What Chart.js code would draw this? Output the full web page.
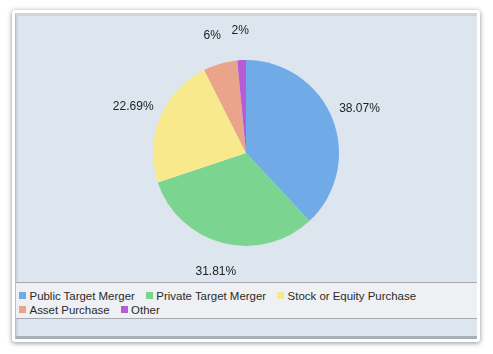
<!DOCTYPE html>
<html>
<head>
<meta charset="utf-8">
<script src="https://cdn.jsdelivr.net/npm/chart.js@4.4.0/dist/chart.umd.min.js"></script>
<style>
  html, body { margin: 0; padding: 0; background: #ffffff; width: 493px; height: 354px; overflow: hidden; }
  #card { position: absolute; left: 12px; top: 10px; width: 468px; height: 332px; background: #ffffff;
          border-radius: 3px; box-shadow: 0 1px 5px rgba(0,0,0,0.45); }
  #panel { position: absolute; left: 15px; top: 13px; width: 461px; height: 322px; background: #dde5ee;
           border-left: 1px solid #b9c1c9; border-top: 1px solid #d0d7de; border-bottom: 3px solid #a9b0b8;
           box-shadow: inset 2px 2px 0 #cdd5dd; }
  #chartWrap { position: absolute; left: 15px; top: 13px; width: 462px; height: 269px; }
  #legend { position: absolute; left: 16px; top: 282px; width: 461px; height: 37px; background: #eef0f3;
            border-top: 1px solid #a3a9af; border-bottom: 1px solid #a3a9af; box-sizing: border-box;
            padding: 6px 0 0 3px; font-family: "Liberation Sans", Arial, sans-serif; font-size: 11.45px;
            line-height: 14px; color: #2a2a2a; }
  .item { display: inline-block; white-space: nowrap; margin-right: 11px; }
  .box { display: inline-block; width: 7px; height: 7px; margin-right: 3.5px; vertical-align: 1px; }
</style>
</head>
<body>
<div id="card"></div>
<div id="panel"></div>
<div id="chartWrap"><canvas id="c" width="462" height="269"></canvas></div>
<div id="legend"></div>
<script>
const categories = ["Public Target Merger", "Private Target Merger", "Stock or Equity Purchase", "Asset Purchase", "Other"];
const values = [38.07, 31.81, 22.69, 5.93, 1.5];
const valueLabels = ["38.07%", "31.81%", "22.69%", "6%", "2%"];
const colors = ["#70abe8", "#7bd48f", "#f8ea8c", "#e9a48b", "#b65cd7"];

const outsideLabels = {
  id: 'outsideLabels',
  afterDatasetsDraw(chart) {
    const ctx = chart.ctx;
    const meta = chart.getDatasetMeta(0);
    ctx.save();
    ctx.font = '12px "Liberation Sans", Arial, sans-serif';
    ctx.fillStyle = '#222222';
    ctx.textAlign = 'center';
    ctx.textBaseline = 'middle';
    meta.data.forEach((arc, i) => {
      const p = arc.getProps(['x', 'y', 'startAngle', 'endAngle', 'outerRadius'], true);
      const mid = (p.startAngle + p.endAngle) / 2;
      const r = p.outerRadius + 29;
      ctx.fillText(valueLabels[i], p.x + Math.cos(mid) * r, p.y + Math.sin(mid) * r);
    });
    ctx.restore();
  }
};

const htmlLegend = {
  id: 'htmlLegend',
  afterUpdate(chart) {
    const el = document.getElementById('legend');
    el.innerHTML = '';
    const items = chart.options.plugins.legend.labels.generateLabels(chart);
    items.forEach(it => {
      const span = document.createElement('span');
      span.className = 'item';
      const b = document.createElement('span');
      b.className = 'box';
      b.style.background = it.fillStyle;
      span.appendChild(b);
      span.appendChild(document.createTextNode(it.text));
      el.appendChild(span);
    });
  }
};

new Chart(document.getElementById('c'), {
  type: 'pie',
  data: {
    labels: categories,
    datasets: [{
      data: values,
      backgroundColor: colors,
      borderWidth: 0,
      hoverOffset: 0
    }]
  },
  options: {
    responsive: false,
    animation: false,
    layout: { padding: { top: 47, bottom: 36, left: 138, right: 138 } },
    plugins: {
      legend: { display: false },
      tooltip: { enabled: false }
    }
  },
  plugins: [outsideLabels, htmlLegend]
});
</script>
</body>
</html>
